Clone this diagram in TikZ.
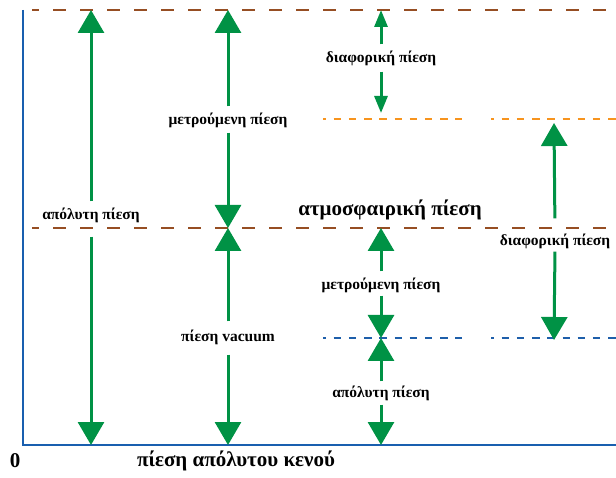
\documentclass[tikz,border=0pt]{standalone}
\usepackage{fontspec}
\setmainfont{Liberation Serif}
\usetikzlibrary{arrows.meta}
\definecolor{arrgreen}{RGB}{0,146,69}
\definecolor{levbrown}{RGB}{150,78,35}
\definecolor{levorange}{RGB}{247,148,30}
\definecolor{levblue}{RGB}{30,95,170}
\definecolor{axisblue}{RGB}{25,95,175}
\tikzset{
  lbl/.style={font=\bfseries\fontsize{15.5}{15.5}\selectfont, inner sep=0pt},
  biglbl/.style={font=\bfseries\fontsize{21}{21}\selectfont, inner sep=0pt},
  bigarr/.style={draw=arrgreen, line width=3pt, -{Triangle[width=26pt,length=23pt]}, shorten <=6pt},
  smallarr/.style={draw=arrgreen, line width=3pt, -{Triangle[width=13pt,length=17pt]}, shorten <=6pt},
  brownlev/.style={draw=levbrown, line width=2.6pt, dash pattern=on 13pt off 14pt, dash phase=6pt},
  orangelev/.style={draw=levorange, line width=2.6pt, dash pattern=on 7.5pt off 7.7pt, dash phase=4.5pt},
  bluelev/.style={draw=levblue, line width=2.6pt, dash pattern=on 7.5pt off 7.7pt, dash phase=4.5pt},
  axisln/.style={draw=axisblue, line width=2.8pt}
}
\begin{document}
\begin{tikzpicture}[x=1pt,y=-1pt]
\useasboundingbox (0,0) rectangle (616,478);

% level lines
\coordinate (topL) at (32,10);   \coordinate (topR) at (616,10);
\coordinate (atmL) at (32,228);  \coordinate (atmR) at (616,228);
\coordinate (gaL) at (323,119);  \coordinate (gaM) at (462,119);
\coordinate (gbL) at (491,119);  \coordinate (gbR) at (616,119);
\coordinate (vaL) at (323,338);  \coordinate (vaM) at (462,338);
\coordinate (vbL) at (491,338);  \coordinate (vbR) at (616,338);
\draw[brownlev] (topL) -- (topR);
\draw[brownlev] (atmL) -- (atmR);
\draw[orangelev] (gaL) -- (gaM);
\draw[orangelev] (gbL) -- (gbR);
\draw[bluelev] (vaL) -- (vaM);
\draw[bluelev] (vbL) -- (vbR);

% axes
\coordinate (axTop) at (23,10);
\coordinate (axO) at (23,445);
\coordinate (axEnd) at (616,445);
\draw[axisln] (axTop) -- (axO) -- (axEnd);

% absolute pressure (left)
\node[lbl] (abs1) at (91,215) {απόλυτη πίεση};
\coordinate (abs1t) at (91,10);
\coordinate (abs1b) at (91,445);
\draw[bigarr] (abs1.north) -- (abs1t);
\draw[bigarr, shorten <=14pt] (abs1.south) -- (abs1b);

% gauge pressure above atmosphere
\node[lbl] (gauge1) at (228,120) {μετρούμενη πίεση};
\coordinate (g1t) at (228,10);
\coordinate (g1b) at (228,228);
\draw[bigarr] (gauge1.north) -- (g1t);
\draw[bigarr, shorten <=5pt] (gauge1.south) -- (g1b);

% vacuum pressure
\node[lbl] (vac) at (228,337) {πίεση vacuum};
\coordinate (vt) at (228,228);
\coordinate (vb) at (228,445);
\draw[bigarr, shorten <=8pt] (vac.north) -- (vt);
\draw[bigarr, shorten <=10pt] (vac.south) -- (vb);

% differential pressure (upper)
\node[lbl] (diff1) at (381,58) {διαφορική πίεση};
\coordinate (d1t) at (381,10);
\coordinate (d1b) at (381,113);
\draw[smallarr] (diff1.north) -- (d1t);
\draw[smallarr] (diff1.south) -- (d1b);

% atmospheric pressure label
\node[biglbl] (atm) at (390,210) {ατμοσφαιρική πίεση};

% gauge pressure below atmosphere
\node[lbl] (gauge2) at (381,285) {μετρούμενη πίεση};
\coordinate (g2t) at (381,228);
\coordinate (g2b) at (381,338);
\draw[bigarr] (gauge2.north) -- (g2t);
\draw[bigarr, shorten <=3pt] (gauge2.south) -- (g2b);

% absolute pressure (right)
\node[lbl] (abs2) at (381,393) {απόλυτη πίεση};
\coordinate (a2t) at (381,338);
\coordinate (a2b) at (381,445);
\draw[bigarr, shorten <=4pt] (abs2.north) -- (a2t);
\draw[bigarr, shorten <=4pt] (abs2.south) -- (a2b);

% differential pressure (right)
\node[lbl] (diff2) at (555,241) {διαφορική πίεση};
\coordinate (d2t) at (554,123);
\coordinate (d2b) at (554,340);
\draw[bigarr, shorten <=15pt] (diff2.north) -- (d2t);
\draw[bigarr, shorten <=3pt] (diff2.south) -- (d2b);

% axis labels
\node[biglbl] (zero) at (15,461) {0};
\node[biglbl] (vacabs) at (236,461) {πίεση απόλυτου κενού};
\end{tikzpicture}
\end{document}
